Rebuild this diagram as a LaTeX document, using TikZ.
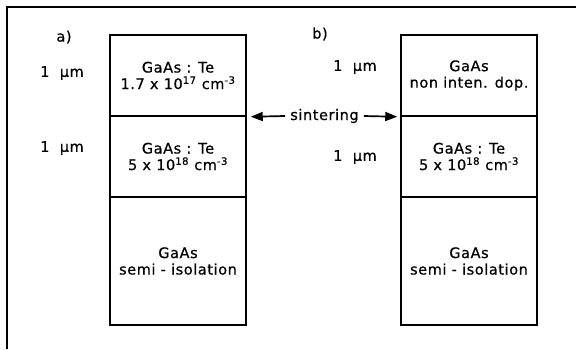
\documentclass[tikz,border=0pt]{standalone}
\usepackage{fontspec}
\setmainfont[LetterSpace=4.0,FakeBold=0.6]{DejaVu Sans}
\usetikzlibrary{arrows.meta}
\begin{document}
\begin{tikzpicture}[x=1pt,y=-1pt,
  txt/.style={font=\fontsize{14.5}{16.5}\selectfont},
  layer/.style={txt, draw, line width=1.5pt, minimum width=136pt,
    align=center, inner sep=0pt},
  conn/.style={-{Triangle[length=12pt,width=9pt]}, line width=1.7pt},
  frame/.style={line width=1.6pt}]
\useasboundingbox (0,0) rectangle (576,349);
% frame
\coordinate (fR) at (576,7);
\coordinate (fC) at (7,7);
\coordinate (fB) at (7,349);
\draw[frame] (fR) -- (fC) -- (fB);
% stack a
\node[layer, minimum height=81pt] (aTop) at (178,75.5)
  {GaAs : Te\\1.7 x 10\textsuperscript{17} cm\textsuperscript{-3}};
\node[layer, minimum height=81pt] (aMid) at (178,156.5)
  {GaAs : Te\\5 x 10\textsuperscript{18} cm\textsuperscript{-3}};
\node[layer, minimum height=128pt] (aBot) at (178,261)
  {GaAs\\semi - isolation};
% stack b
\node[layer, minimum height=81pt] (bTop) at (469,75.5)
  {GaAs\\non inten. dop.};
\node[layer, minimum height=81pt] (bMid) at (469,156.5)
  {GaAs : Te\\5 x 10\textsuperscript{18} cm\textsuperscript{-3}};
\node[layer, minimum height=128pt] (bBot) at (469,261)
  {GaAs\\semi - isolation};
% labels
\node[txt] (la) at (64,37) {a)};
\node[txt] (lb) at (320,34) {b)};
\node[txt] (la1) at (62,73) {1~~µm};
\node[txt] (la2) at (62,148) {1~~µm};
\node[txt] (lb1) at (355,67) {1~~µm};
\node[txt] (lb2) at (355,157) {1~~µm};
% sintering
\node[txt, inner xsep=5pt] (sint) at (324.5,116) {sintering};
\draw[conn] (sint.west) -- ([xshift=4pt]aTop.south east);
\draw[conn] (sint.east) -- ([xshift=-3pt]bTop.south west);
\end{tikzpicture}
\end{document}
